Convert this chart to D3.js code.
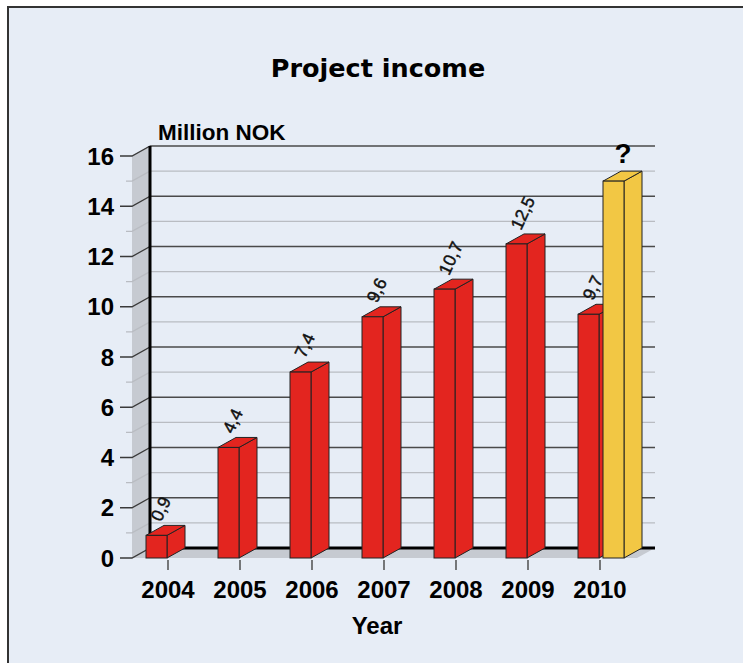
<!DOCTYPE html>
<html>
<head>
<meta charset="utf-8">
<script src="https://cdn.jsdelivr.net/npm/d3@7"></script>
<style>
  body { margin: 0; background: #fff; }
  svg { display: block; }
</style>
</head>
<body>
<div id="chart"></div>
<script>
// values
const years = ["2004", "2005", "2006", "2007", "2008", "2009", "2010"];
const income = [0.9, 4.4, 7.4, 9.6, 10.7, 12.5, 9.7];
const incomeLabels = ["0,9", "4,4", "7,4", "9,6", "10,7", "12,5", "9,7"];
const forecastYear = "2010";
const forecastValue = 15.0;
const forecastLabel = "?";
const yTicks = [0, 2, 4, 6, 8, 10, 12, 14, 16];
const yMinor = [1, 3, 5, 7, 9, 11, 13, 15];

const width = 743, height = 663;
const depthX = 18, depthY = -10;   // 3d offset of the back wall
const barW = 21;

const svg = d3.select("#chart").append("svg")
    .attr("width", width)
    .attr("height", height);

// frame (cut off at right and bottom)
svg.append("rect")
    .attr("x", 8).attr("y", 7)
    .attr("width", width + 20).attr("height", height + 20)
    .attr("fill", "#e7edf6")
    .attr("stroke", "#333")
    .attr("stroke-width", 2);

const x = d3.scalePoint().domain(years).range([168, 600]);
const y = d3.scaleLinear().domain([0, 16]).range([558, 156]);

const wallLeft = 132 + depthX, wallRight = 655;
const yb = v => y(v) + depthY;

// floor
svg.append("polygon")
    .attr("points", [[132, y(0)], [wallLeft, yb(0)], [wallRight, yb(0)], [wallRight - depthX, y(0)]].join(" "))
    .attr("fill", "#c6cad1");

// side wall
svg.append("polygon")
    .attr("points", [[132, y(16)], [wallLeft, yb(16)], [wallLeft, yb(0)], [132, y(0)]].join(" "))
    .attr("fill", "#c6cad1");

// grid on back wall
svg.append("g").selectAll("line")
    .data(yMinor)
    .join("line")
    .attr("x1", wallLeft).attr("x2", wallRight)
    .attr("y1", d => yb(d)).attr("y2", d => yb(d))
    .attr("stroke", "#b9bcc2").attr("stroke-width", 1.2);

svg.append("g").selectAll("line")
    .data(yTicks.filter(d => d > 0))
    .join("line")
    .attr("x1", wallLeft).attr("x2", wallRight)
    .attr("y1", d => yb(d)).attr("y2", d => yb(d))
    .attr("stroke", "#4a4a4a").attr("stroke-width", 1.3);

// minor ticks across the side wall
svg.append("g").selectAll("polyline")
    .data(yMinor)
    .join("polyline")
    .attr("points", d => [[126, y(d)], [132, y(d)], [wallLeft, yb(d)]].join(" "))
    .attr("fill", "none")
    .attr("stroke", "#b9bcc2").attr("stroke-width", 1.2);

// major ticks
svg.append("g").selectAll("polyline")
    .data(yTicks)
    .join("polyline")
    .attr("points", d => [[120, y(d)], [132, y(d)], [wallLeft, yb(d)]].join(" "))
    .attr("fill", "none")
    .attr("stroke", "#3a3a3a").attr("stroke-width", 1.4);

svg.append("g").selectAll("text")
    .data(yTicks)
    .join("text")
    .attr("x", 114)
    .attr("y", d => y(d) + 8.5)
    .attr("text-anchor", "end")
    .attr("font-family", "Liberation Sans, Arial, sans-serif")
    .attr("font-weight", "bold")
    .attr("font-size", 24)
    .text(d => d);

// back wall axis lines
svg.append("line")
    .attr("x1", wallLeft).attr("x2", wallLeft)
    .attr("y1", yb(16)).attr("y2", yb(0) + 1.5)
    .attr("stroke", "#000").attr("stroke-width", 3);
svg.append("line")
    .attr("x1", wallLeft).attr("x2", wallRight)
    .attr("y1", yb(0)).attr("y2", yb(0))
    .attr("stroke", "#000").attr("stroke-width", 3);

// x ticks
svg.append("g").selectAll("line")
    .data(years)
    .join("line")
    .attr("x1", d => x(d)).attr("x2", d => x(d))
    .attr("y1", y(0) + 2).attr("y2", y(0) + 12)
    .attr("stroke", "#444").attr("stroke-width", 1.4);

svg.append("g").selectAll("text")
    .data(years)
    .join("text")
    .attr("x", d => x(d))
    .attr("y", 598)
    .attr("text-anchor", "middle")
    .attr("font-family", "Liberation Sans, Arial, sans-serif")
    .attr("font-weight", "bold")
    .attr("font-size", 24)
    .text(d => d);

function drawBar(g, x0, v, fill) {
    const x1 = x0 + barW, top = y(v), base = y(0);
    g.append("polygon")
        .attr("points", [[x1, base], [x1 + depthX, base + depthY], [x1 + depthX, top + depthY], [x1, top]].join(" "))
        .attr("fill", fill).attr("stroke", "#222").attr("stroke-width", 1);
    g.append("polygon")
        .attr("points", [[x0, top], [x1, top], [x1 + depthX, top + depthY], [x0 + depthX, top + depthY]].join(" "))
        .attr("fill", fill).attr("stroke", "#222").attr("stroke-width", 1);
    g.append("rect")
        .attr("x", x0).attr("y", top)
        .attr("width", barW).attr("height", base - top)
        .attr("fill", fill).attr("stroke", "#222").attr("stroke-width", 1);
}

const bars = svg.append("g");
years.forEach((yr, i) => {
    const x0 = x(yr) - 22;
    drawBar(bars, x0, income[i], "#e3251f");
    bars.append("text")
        .attr("transform", `translate(${x0 + 15},${y(income[i]) - 13}) rotate(-65)`)
        .attr("font-family", "Liberation Sans, Arial, sans-serif")
        .attr("font-size", 17.5)
        .attr("fill", "#111")
        .attr("stroke", "#111")
        .attr("stroke-width", 0.45)
        .text(incomeLabels[i]);
});

// forecast bar
const fx0 = x(forecastYear) + 3;
drawBar(bars, fx0, forecastValue, "#f2c744");
svg.append("text")
    .attr("x", fx0 + 20)
    .attr("y", y(forecastValue) - 18)
    .attr("text-anchor", "middle")
    .attr("font-family", "Liberation Sans, Arial, sans-serif")
    .attr("font-weight", "bold")
    .attr("font-size", 28)
    .text(forecastLabel);

// titles
svg.append("text")
    .attr("x", 378).attr("y", 77)
    .attr("text-anchor", "middle")
    .attr("font-family", "DejaVu Sans, sans-serif")
    .attr("font-weight", "bold")
    .attr("font-size", 25.5)
    .text("Project income");

svg.append("text")
    .attr("x", 158).attr("y", 140)
    .attr("font-family", "Liberation Sans, Arial, sans-serif")
    .attr("font-weight", "bold")
    .attr("font-size", 22.5)
    .text("Million NOK");

svg.append("text")
    .attr("x", 377).attr("y", 634)
    .attr("text-anchor", "middle")
    .attr("font-family", "Liberation Sans, Arial, sans-serif")
    .attr("font-weight", "bold")
    .attr("font-size", 24)
    .text("Year");
</script>
</body>
</html>
